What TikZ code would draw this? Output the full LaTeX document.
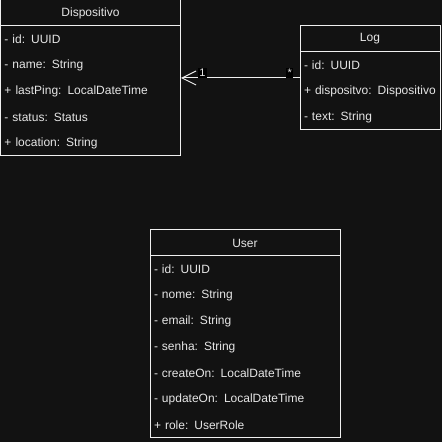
\documentclass[tikz,border=0pt]{standalone}
\usepackage{fontspec}
\setmainfont{Liberation Sans}
\usetikzlibrary{arrows.meta,positioning,fit}
\definecolor{uml-bg}{HTML}{121212}
\definecolor{uml-line}{HTML}{F0F0F0}
\definecolor{uml-text}{HTML}{E6E6E6}

\begin{document}
\begin{tikzpicture}[x=1pt,y=1pt,>={Straight Barb[length=14pt,width=14pt]},
    font=\fontsize{12}{14}\selectfont]
  \tikzstyle{header}=[draw=uml-line,line width=1pt,text=uml-text,minimum height=26pt,
    inner sep=0pt,outer sep=0pt]
  \tikzstyle{attr}=[text=uml-text,minimum height=26pt,inner xsep=4pt,inner ysep=0pt,
    outer sep=0pt,align=left]
  \tikzstyle{mult}=[fill=black,text=uml-text,font=\fontsize{11}{12}\selectfont,
    inner xsep=1.5pt,inner ysep=1pt,outer sep=0pt,anchor=south]

  \fill[uml-bg] (0,0) rectangle (442,442);
  \useasboundingbox (0,0) rectangle (442,442);

  %% Dispositivo
  \node[header, minimum width=180pt] (disp) at (90.5,429) {Dispositivo};
  \node[attr, text width=172pt] (d1) [below=0pt of disp] {- id: UUID};
  \node[attr, text width=172pt] (d2) [below=0pt of d1]   {- name: String};
  \node[attr, text width=172pt] (d3) [below=0pt of d2]   {+ lastPing: LocalDateTime};
  \node[attr, text width=172pt] (d4) [below=0pt of d3]   {- status: Status};
  \node[attr, text width=172pt] (d5) [below=0pt of d4]   {+ location: String};
  \node[fit=(disp)(d5), draw=uml-line, line width=1pt, inner sep=0pt] (dispbox) {};

  %% Log
  \node[header, minimum width=140pt] (log) at (370,403) {Log};
  \node[attr, text width=132pt] (l1) [below=0pt of log] {- id: UUID};
  \node[attr, text width=132pt] (l2) [below=0pt of l1]  {+ dispositvo: Dispositivo};
  \node[attr, text width=132pt] (l3) [below=0pt of l2]  {- text: String};
  \node[fit=(log)(l3), draw=uml-line, line width=1pt, inner sep=0pt] (logbox) {};

  %% User
  \node[header, minimum width=190pt] (user) at (245,199) {User};
  \node[attr, text width=182pt] (u1) [below=0pt of user] {- id: UUID};
  \node[attr, text width=182pt] (u2) [below=0pt of u1]   {- nome: String};
  \node[attr, text width=182pt] (u3) [below=0pt of u2]   {- email: String};
  \node[attr, text width=182pt] (u4) [below=0pt of u3]   {- senha: String};
  \node[attr, text width=182pt] (u5) [below=0pt of u4]   {- createOn: LocalDateTime};
  \node[attr, text width=182pt] (u6) [below=0pt of u5]   {- updateOn: LocalDateTime};
  \node[attr, text width=182pt] (u7) [below=0pt of u6]   {+ role: UserRole};
  \node[fit=(user)(u7), draw=uml-line, line width=1pt, inner sep=0pt] (userbox) {};

  %% Log -> Dispositivo
  \draw[->, uml-line, line width=1pt] (logbox.west) -- (dispbox.east)
    node[mult, pos=0.083] {*}
    node[mult, pos=0.82]  {1};
\end{tikzpicture}
\end{document}
